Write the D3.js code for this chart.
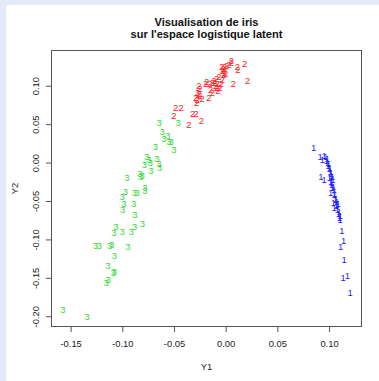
<!DOCTYPE html>
<html>
<head>
<meta charset="utf-8">
<script src="https://cdn.jsdelivr.net/npm/d3@7/dist/d3.min.js"></script>
<style>
  html, body { margin: 0; padding: 0; background: #e2e9f8; }
  svg { display: block; }
  text { font-family: "Liberation Sans", Arial, Helvetica, sans-serif; }
</style>
</head>
<body>
<svg id="chart" width="379" height="381"></svg>
<script>
// Class labels (drawn as the point symbol) for the three iris species
const classLabels = ["1", "2", "3"];

// Latent coordinates, species 1 (setosa)
const setosaY1 = [0.0850, 0.0913, 0.0936, 0.0953, 0.0968, 0.0973, 0.0983, 0.0990, 0.0997, 0.1000,
  0.1010, 0.1021, 0.1031, 0.0920, 0.0953, 0.1016, 0.1024, 0.1041, 0.1048, 0.1016,
  0.1031, 0.1002, 0.1050, 0.1065, 0.1075, 0.1087, 0.1043, 0.1048, 0.1081, 0.1097,
  0.1107, 0.1107, 0.1070, 0.1060, 0.1089, 0.1007, 0.0987, 0.1026, 0.1055, 0.1075,
  0.1123, 0.1140, 0.1113, 0.1145, 0.1136, 0.1178, 0.1203, 0.1021, 0.1036, 0.1099];
const setosaY2 = [0.0198, 0.0079, 0.0036, 0.0095, 0.0075, 0.0023, 0.0056, -0.0035, -0.0009, -0.0078,
  -0.0119, -0.0145, -0.0184, -0.0184, -0.0223, -0.0249, -0.0294, -0.0313, -0.0359, -0.0391,
  -0.0333, -0.0203, -0.0424, -0.0466, -0.0508, -0.0540, -0.0523, -0.0583, -0.0609, -0.0640,
  -0.0696, -0.0747, -0.0566, -0.0488, -0.0663, -0.0061, 0.0004, -0.0268, -0.0404, -0.0553,
  -0.0886, -0.1013, -0.1093, -0.1266, -0.1503, -0.1473, -0.1697, -0.0165, -0.0229, -0.0722];

// Latent coordinates, species 2 (versicolor)
const versicolorY1 = [0.0054, 0.0183, 0.0112, 0.0118, -0.0040, -0.0011, 0.0009, -0.0033, -0.0011, 0.0074,
  0.0212, -0.0088, -0.0066, -0.0033, -0.0153, -0.0130, -0.0105, -0.0081, -0.0195, -0.0185,
  -0.0260, -0.0250, -0.0088, -0.0076, -0.0146, -0.0130, -0.0275, -0.0260, -0.0250, -0.0292,
  -0.0275, -0.0282, -0.0227, -0.0163, -0.0485, -0.0430, -0.0502, -0.0321, -0.0287, -0.0236,
  -0.0357, -0.0056, -0.0098, -0.0001, -0.0114, -0.0045, 0.0052, 0.0033, -0.0025, -0.0020];
const versicolorY2 = [0.1325, 0.1282, 0.1241, 0.1205, 0.1247, 0.1247, 0.1260, 0.1196, 0.1163, 0.1023,
  0.1060, 0.1088, 0.1118, 0.1075, 0.1031, 0.1044, 0.1044, 0.1023, 0.1023, 0.1057,
  0.1001, 0.0956, 0.0979, 0.0937, 0.0946, 0.0911, 0.0915, 0.0894, 0.0872, 0.0842,
  0.0816, 0.0785, 0.0829, 0.0839, 0.0720, 0.0712, 0.0606, 0.0639, 0.0639, 0.0548,
  0.0490, 0.0972, 0.1001, 0.1161, 0.1066, 0.1023, 0.1299, 0.1273, 0.1222, 0.1144];

// Latent coordinates, species 3 (virginica)
const virginicaY1 = [-0.0645, -0.0461, -0.0614, -0.0597, -0.0560, -0.0550, -0.0529, -0.0502, -0.0681, -0.0766,
  -0.0744, -0.0728, -0.0786, -0.0723, -0.0665, -0.0647, -0.0638, -0.0955, -0.0831, -0.0808,
  -0.0825, -0.0970, -0.1002, -0.0986, -0.0996, -0.0883, -0.0857, -0.0781, -0.0781, -0.0890,
  -0.0878, -0.1062, -0.1081, -0.1002, -0.0914, -0.0881, -0.0805, -0.1261, -0.1222, -0.1123,
  -0.1104, -0.0946, -0.1077, -0.1141, -0.1089, -0.1077, -0.1138, -0.1156, -0.1574, -0.1341];
const virginicaY2 = [0.0516, 0.0516, 0.0405, 0.0315, 0.0345, 0.0269, 0.0276, 0.0168, 0.0202, 0.0075,
  0.0036, -0.0003, -0.0028, -0.0106, 0.0049, -0.0016, -0.0070, -0.0197, -0.0145, -0.0171,
  -0.0187, -0.0378, -0.0446, -0.0534, -0.0611, -0.0391, -0.0391, -0.0372, -0.0326, -0.0540,
  -0.0676, -0.0834, -0.0916, -0.0903, -0.0899, -0.0829, -0.0799, -0.1082, -0.1082, -0.1088,
  -0.1071, -0.1093, -0.1211, -0.1343, -0.1430, -0.1417, -0.1518, -0.1567, -0.1917, -0.2000];

// Axis tick values
const xTicks = [-0.15, -0.10, -0.05, 0.00, 0.05, 0.10];
const yTicks = [-0.20, -0.15, -0.10, -0.05, 0.00, 0.05, 0.10];

const titleLines = ["Visualisation de iris", "sur l'espace logistique latent"];
const xLabel = "Y1";
const yLabel = "Y2";

// Build the point table (species in data order)
const groups = [
  { label: classLabels[0], color: "#1a1aff", y1: setosaY1, y2: setosaY2 },
  { label: classLabels[1], color: "#ff1a1a", y1: versicolorY1, y2: versicolorY2 },
  { label: classLabels[2], color: "#2ed62e", y1: virginicaY1, y2: virginicaY2 }
];
const points = [];
groups.forEach(g => g.y1.forEach((v, i) => points.push({ x: v, y: g.y2[i], label: g.label, color: g.color })));

const svg = d3.select("#chart");
const W = 379, H = 381;

// White plotting panel
svg.append("rect").attr("x", 6).attr("y", 5).attr("width", W - 6).attr("height", H - 5).attr("fill", "#ffffff");

const plot = { left: 51.5, right: 361.5, top: 50.5, bottom: 326.5 };

// Extend the data range by 4% on each side
function padded(ext) {
  const r = ext[1] - ext[0];
  return [ext[0] - 0.04 * r, ext[1] + 0.04 * r];
}
const x = d3.scaleLinear().domain(padded(d3.extent(points, d => d.x))).range([plot.left, plot.right]);
const y = d3.scaleLinear().domain(padded(d3.extent(points, d => d.y))).range([plot.bottom, plot.top]);

const fmt = d => d.toFixed(2);
const axisColor = "#555555";
const fs = 9.4;

// Bottom axis
const gx = svg.append("g").attr("transform", `translate(0,${plot.bottom})`)
  .call(d3.axisBottom(x).tickValues(xTicks).tickFormat(fmt).tickSize(5.6).tickSizeOuter(0));
gx.select(".domain").remove();
gx.selectAll(".tick line").attr("stroke", axisColor);
gx.selectAll(".tick text").attr("y", 20.8).attr("dy", 0)
  .attr("font-size", fs).attr("fill", "#222").attr("font-family", "Liberation Sans, Arial, sans-serif");

// Left axis with labels parallel to the axis
const gy = svg.append("g").attr("transform", `translate(${plot.left},0)`)
  .call(d3.axisLeft(y).tickValues(yTicks).tickFormat(fmt).tickSize(5.6).tickSizeOuter(0));
gy.select(".domain").remove();
gy.selectAll(".tick line").attr("stroke", axisColor);
gy.selectAll(".tick text").attr("transform", "rotate(-90)")
  .attr("x", 0).attr("y", -12.3).attr("dy", 0).attr("text-anchor", "middle")
  .attr("font-size", fs).attr("fill", "#222").attr("font-family", "Liberation Sans, Arial, sans-serif");

// Plot frame
svg.append("rect")
  .attr("x", plot.left).attr("y", plot.top)
  .attr("width", plot.right - plot.left).attr("height", plot.bottom - plot.top)
  .attr("fill", "none").attr("stroke", axisColor).attr("stroke-width", 1);

// Points drawn as their class label
svg.append("g").selectAll("text").data(points).join("text")
  .attr("x", d => x(d.x)).attr("y", d => y(d.y))
  .attr("dy", "0.35em")
  .attr("text-anchor", "middle")
  .attr("font-size", fs)
  .attr("fill", d => d.color)
  .text(d => d.label);

// Title
const cx = (plot.left + plot.right) / 2;
svg.append("text").attr("x", cx).attr("y", 26).attr("text-anchor", "middle")
  .attr("font-size", 11.1).attr("font-weight", "bold").attr("fill", "#111").text(titleLines[0]);
svg.append("text").attr("x", cx).attr("y", 38).attr("text-anchor", "middle")
  .attr("font-size", 11.1).attr("font-weight", "bold").attr("fill", "#111").text(titleLines[1]);

// Axis titles
svg.append("text").attr("x", cx).attr("y", 369.5).attr("text-anchor", "middle")
  .attr("font-size", fs).attr("fill", "#222").text(xLabel);
svg.append("text").attr("transform", `translate(17.5,${(plot.top + plot.bottom) / 2}) rotate(-90)`)
  .attr("text-anchor", "middle").attr("font-size", fs).attr("fill", "#222").text(yLabel);
</script>
</body>
</html>
